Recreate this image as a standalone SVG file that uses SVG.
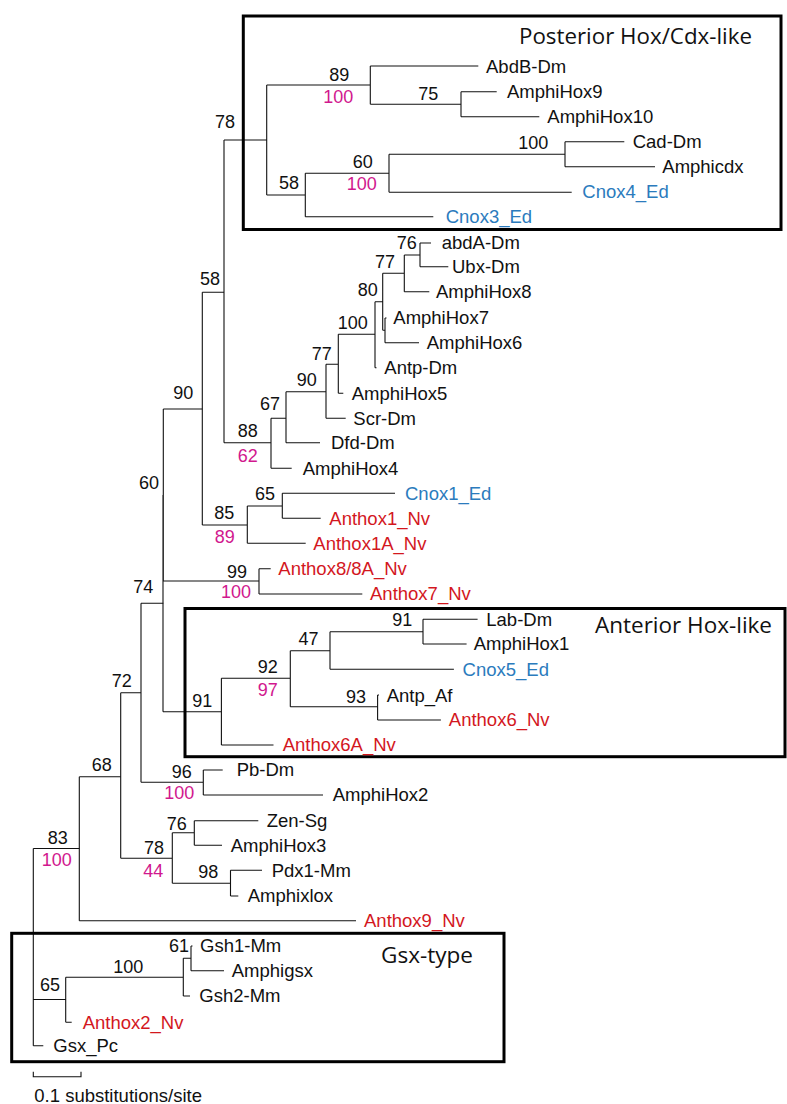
<svg xmlns="http://www.w3.org/2000/svg" width="787" height="1104" viewBox="0 0 787 1104">
<style>
.br{fill:none;stroke:#111;stroke-width:1.1}
.box{fill:none;stroke:#000;stroke-width:3}
text{font-family:"Liberation Sans",Arial,sans-serif;fill:#111}
.lb{font-size:18.5px}
.sv{font-size:18px}
.pk{fill:#d1188e}
.bl{fill:#2b7bbd}
.rd{fill:#d3171e}
.tt{font-family:"Open Sans","Noto Sans","Liberation Sans",sans-serif;font-size:22px}
</style>
<rect width="787" height="1104" fill="#fff"/>
<g id="connectors">
<path class="br" d="M224,140H266.7M266.7,85V195M266.7,85H370.3M370.3,66V104.3M370.3,66H478.3M370.3,104.3H461M461,91.7V116.7M461,91.7H496.7M461,116.7H539.3M266.7,195H305.3M305.3,173.3V216.7M305.3,173.3H389M389,154.3V192.3M389,154.3H565M565,141.7V166.7M565,141.7H624.3M565,166.7H655M389,192.3H571.7M305.3,216.7H433.3"/>
<path class="br" d="M224,140V442.7M224,442.7H271M271,418.3V468.3M271,468.3H291.7M271,418.3H286M286,391.7V442.7M286,442.7H320M286,391.7H326M326,364.3V418.3M326,418.3H345.7M326,364.3H338.3M338.3,334.3V393.3M338.3,393.3H343.3M338.3,334.3H375M375,301.7V367.7M375,367.7H376.5M375,301.7H382.7M382.7,273.3V330.3M382.7,330.3H385M385,318V342.7M385,318H386.5M385,342.7H419M382.7,273.3H404.3M404.3,255V291.7M404.3,291.7H429.3M404.3,255H420M420,243V266.7M420,243H431M420,266.7H448.3"/>
<path class="br" d="M202.3,292.3H224M202.3,292.3V525M202.3,525H247.3M247.3,506V543.3M247.3,506H282.3M282.3,493.3V518.3M282.3,493.3H395M282.3,518.3H320.7M247.3,543.3H305.7"/>
<path class="br" d="M163.3,409H202.3M163.3,409V581M163.3,581H259M259,568.7V594M259,568.7H270.7M259,594H362.3M163,495V711.7M163,711.7H221.4"/>
<path class="br" d="M221.4,678.3V745M221.4,745H273.5M221.4,678.3H290.3M290.3,650.7V706.7M290.3,650.7H330M330,631.7V669.3M330,631.7H423M423,619.3V644M423,619.3H477.6M423,644H466.6M330,669.3H453.9M290.3,706.7H377.6M377.6,695V720M377.6,695H379M377.6,720H440.9"/>
<path class="br" d="M141,603.3H163.3M141,603.3V782.3M141,782.3H203.3M203.3,770V795M203.3,770H222.7M203.3,795H323"/>
<path class="br" d="M120.7,692.7H141M120.7,692.7V858.3M120.7,858.3H172.3M172.3,832.7V883.3M172.3,832.7H194.3M194.3,820.7V845.3M194.3,820.7H258.3M194.3,845.3H222M172.3,883.3H230.5M230.5,870.3V896M230.5,870.3H262M230.5,896H238.3"/>
<path class="br" d="M79.3,776.7H120.7M79.3,776.7V920.7M79.3,920.7H356"/>
<path class="br" d="M33.3,848.5H79.3M33.3,848.5V1045.7M33.3,999.5H65.7M65.7,977.3V1022.3M65.7,977.3H183.3M183.3,958.3V996M183.3,958.3H191M191,946V970.7M191,946H192.5M191,970.7H224M183.3,996H190M65.7,1022.3H71.7M33.3,1045.7H43.3"/>
<path class="br" d="M33.3,1071.7V1076.7H81V1071.7"/>
</g>
<g id="box-posterior">
<rect class="box" x="243.3" y="16" width="537.7" height="213.5"/>
<text class="tt" x="519" y="44" textLength="233" lengthAdjust="spacingAndGlyphs">Posterior Hox/Cdx-like</text>
</g>
<g id="box-anterior">
<rect class="box" x="185" y="608.5" width="600" height="148.2"/>
<text class="tt" x="595" y="632.7" textLength="177" lengthAdjust="spacingAndGlyphs">Anterior Hox-like</text>
</g>
<g id="box-gsx">
<rect class="box" x="11.7" y="933.3" width="492.3" height="128.4"/>
<text class="tt" x="381" y="963.3" textLength="92" lengthAdjust="spacingAndGlyphs">Gsx-type</text>
</g>
<g id="leaves">
<text class="lb" x="486" y="72.7">AbdB-Dm</text>
<text class="lb" x="507" y="98.3">AmphiHox9</text>
<text class="lb" x="547.3" y="122.5">AmphiHox10</text>
<text class="lb" x="632.7" y="148.3">Cad-Dm</text>
<text class="lb" x="662.3" y="172.7">Amphicdx</text>
<text class="lb bl" x="582.3" y="198">Cnox4_Ed</text>
<text class="lb bl" x="445.7" y="223">Cnox3_Ed</text>
<text class="lb" x="441.7" y="249">abdA-Dm</text>
<text class="lb" x="452" y="273">Ubx-Dm</text>
<text class="lb" x="436" y="298">AmphiHox8</text>
<text class="lb" x="393.3" y="324">AmphiHox7</text>
<text class="lb" x="426.7" y="349">AmphiHox6</text>
<text class="lb" x="384.3" y="374">Antp-Dm</text>
<text class="lb" x="351.7" y="399.5">AmphiHox5</text>
<text class="lb" x="353.3" y="424.5">Scr-Dm</text>
<text class="lb" x="331" y="449">Dfd-Dm</text>
<text class="lb" x="302.7" y="474.5">AmphiHox4</text>
<text class="lb bl" x="405" y="499.5">Cnox1_Ed</text>
<text class="lb rd" x="329.3" y="524.5">Anthox1_Nv</text>
<text class="lb rd" x="313.3" y="549.5">Anthox1A_Nv</text>
<text class="lb rd" x="278.3" y="575">Anthox8/8A_Nv</text>
<text class="lb rd" x="370" y="600">Anthox7_Nv</text>
<text class="lb" x="486.3" y="625.5">Lab-Dm</text>
<text class="lb" x="473.7" y="650">AmphiHox1</text>
<text class="lb bl" x="462.6" y="675.5">Cnox5_Ed</text>
<text class="lb" x="386.7" y="701.5">Antp_Af</text>
<text class="lb rd" x="448.8" y="726">Anthox6_Nv</text>
<text class="lb rd" x="282.7" y="751">Anthox6A_Nv</text>
<text class="lb" x="236.7" y="776">Pb-Dm</text>
<text class="lb" x="332.7" y="801">AmphiHox2</text>
<text class="lb" x="266.7" y="827">Zen-Sg</text>
<text class="lb" x="230.7" y="851.5">AmphiHox3</text>
<text class="lb" x="271.7" y="876.5">Pdx1-Mm</text>
<text class="lb" x="247.7" y="902">Amphixlox</text>
<text class="lb rd" x="364" y="927">Anthox9_Nv</text>
<text class="lb" x="200" y="952">Gsh1-Mm</text>
<text class="lb" x="231.7" y="977">Amphigsx</text>
<text class="lb" x="199.3" y="1002">Gsh2-Mm</text>
<text class="lb rd" x="82.7" y="1028.5">Anthox2_Nv</text>
<text class="lb" x="53.3" y="1052">Gsx_Pc</text>
</g>
<g id="supports">
<text class="sv" x="215" y="128.3">78</text>
<text class="sv" x="329.3" y="81">89</text>
<text class="sv pk" x="323.3" y="103.3">100</text>
<text class="sv" x="418.3" y="100">75</text>
<text class="sv" x="518.3" y="149.3">100</text>
<text class="sv" x="352.7" y="168.3">60</text>
<text class="sv pk" x="346.7" y="190">100</text>
<text class="sv" x="279" y="189.3">58</text>
<text class="sv" x="200" y="285">58</text>
<text class="sv" x="396.7" y="249.3">76</text>
<text class="sv" x="375" y="268.3">77</text>
<text class="sv" x="357.7" y="296">80</text>
<text class="sv" x="337.7" y="329.3">100</text>
<text class="sv" x="311.7" y="360">77</text>
<text class="sv" x="296.7" y="386">90</text>
<text class="sv" x="260" y="410">67</text>
<text class="sv" x="237.7" y="436.7">88</text>
<text class="sv pk" x="237.7" y="461.7">62</text>
<text class="sv" x="173.3" y="399.3">90</text>
<text class="sv" x="139" y="489.3">60</text>
<text class="sv" x="255" y="500">65</text>
<text class="sv" x="214.3" y="519.3">85</text>
<text class="sv pk" x="214.7" y="543.3">89</text>
<text class="sv" x="227" y="578.3">99</text>
<text class="sv pk" x="221" y="598.3">100</text>
<text class="sv" x="133.3" y="592.7">74</text>
<text class="sv" x="392.2" y="626">91</text>
<text class="sv" x="298.5" y="645">47</text>
<text class="sv" x="257.8" y="672.7">92</text>
<text class="sv pk" x="257.7" y="695.7">97</text>
<text class="sv" x="346" y="702.7">93</text>
<text class="sv" x="192.3" y="706.7">91</text>
<text class="sv" x="111.7" y="687.3">72</text>
<text class="sv" x="171.7" y="777.7">96</text>
<text class="sv pk" x="164.3" y="799.3">100</text>
<text class="sv" x="91.7" y="770.7">68</text>
<text class="sv" x="166.7" y="830">76</text>
<text class="sv" x="144" y="854.3">78</text>
<text class="sv pk" x="143.3" y="876.7">44</text>
<text class="sv" x="198.3" y="877.7">98</text>
<text class="sv" x="47.7" y="844">83</text>
<text class="sv pk" x="41.7" y="866">100</text>
<text class="sv" x="169" y="952.3">61</text>
<text class="sv" x="113.3" y="972.7">100</text>
<text class="sv" x="40" y="990.7">65</text>
</g>
<g id="scale">
<text class="lb" x="34.3" y="1101.5">0.1 substitutions/site</text>
</g>
</svg>
